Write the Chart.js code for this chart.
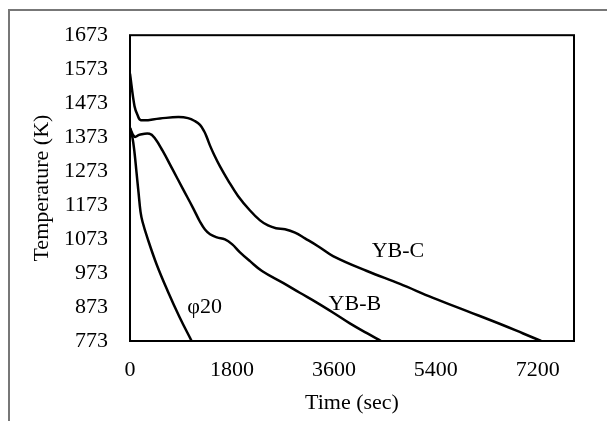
<!DOCTYPE html>
<html>
<head>
<meta charset="utf-8">
<script src="https://cdn.jsdelivr.net/npm/chart.js@4"></script>
<style>
    body { margin: 0; background: #fff; }
    #wrap { position: relative; width: 607px; height: 421px; }
    #frame { position: absolute; left: 8px; top: 9px; right: 0; bottom: 0; border-top: 2px solid #777; border-left: 2px solid #777; }
    canvas { position: absolute; left: 0; top: 0; }
</style>
</head>
<body>
<div id="wrap">
    <div id="frame"></div>
    <canvas id="coolingChart" width="607" height="421"></canvas>
</div>
<script>
// Cooling curves (time in s, temperature in K)
const phi20Time = [0, 44, 80, 115, 150, 186, 221, 310, 469, 663, 876, 1088];
const phi20Temp = [1400, 1371, 1327, 1269, 1211, 1153, 1124, 1075, 999, 921, 843, 773];

const ybBTime = [0, 80, 168, 345, 433, 575, 752, 936, 1112, 1236, 1324, 1413, 1536, 1677, 1801, 1942, 2119, 2331, 2702, 2998, 3299, 3582, 3882, 4184, 4432];
const ybBTemp = [1400, 1374, 1380, 1383, 1371, 1333, 1278, 1220, 1165, 1124, 1101, 1087, 1078, 1072, 1058, 1034, 1008, 979, 944, 915, 886, 857, 825, 796, 773];

const ybCTime = [0, 80, 133, 194, 530, 850, 1024, 1148, 1236, 1307, 1360, 1413, 1483, 1589, 1731, 1907, 2119, 2296, 2437, 2578, 2737, 2914, 3090, 3320, 3585, 4184, 4767, 5351, 5953, 6537, 6943, 7260];
const ybCTemp = [1560, 1464, 1438, 1423, 1428, 1432, 1429, 1420, 1409, 1391, 1371, 1348, 1322, 1287, 1246, 1200, 1157, 1128, 1113, 1105, 1102, 1092, 1075, 1052, 1023, 979, 941, 900, 861, 823, 795, 773];

const xTicks = [0, 1800, 3600, 5400, 7200];
const yTicks = [773, 873, 973, 1073, 1173, 1273, 1373, 1473, 1573, 1673];

const curveLabels = ['φ20', 'YB-B', 'YB-C'];
const curveLabelTime = [1318, 3971, 4732];
const curveLabelTemp = [872, 880, 1037];

const serif = 'Liberation Serif, Times New Roman, serif';

function toPoints(xs, ys) {
    return xs.map((x, i) => ({ x: x, y: ys[i] }));
}

function curve(label, xs, ys) {
    return {
        label: label,
        data: toPoints(xs, ys),
        borderColor: '#000',
        borderWidth: 2.5,
        pointRadius: 0,
        fill: false,
        tension: 0.4
    };
}

// box round the plot area and the curve names
const decorations = {
    id: 'decorations',
    afterDatasetsDraw(chart) {
        const ctx = chart.ctx;
        const a = chart.chartArea;
        ctx.save();
        ctx.strokeStyle = '#000';
        ctx.lineWidth = 2;
        ctx.strokeRect(a.left, a.top, a.right - a.left, a.bottom - a.top);
        ctx.fillStyle = '#000';
        ctx.font = '22px ' + serif;
        ctx.textAlign = 'center';
        ctx.textBaseline = 'middle';
        curveLabels.forEach((txt, i) => {
            const x = chart.scales.x.getPixelForValue(curveLabelTime[i]);
            const y = chart.scales.y.getPixelForValue(curveLabelTemp[i]);
            ctx.fillText(txt, x, y);
        });
        ctx.restore();
    }
};

const ctx = document.getElementById('coolingChart').getContext('2d');
const chart = new Chart(ctx, {
    type: 'line',
    data: {
        datasets: [
            curve('φ20', phi20Time, phi20Temp),
            curve('YB-B', ybBTime, ybBTemp),
            curve('YB-C', ybCTime, ybCTemp)
        ]
    },
    options: {
        responsive: false,
        animation: false,
        layout: { padding: { left: 0, top: 31, right: 33, bottom: 0 } },
        plugins: {
            legend: { display: false },
            tooltip: { enabled: false }
        },
        scales: {
            x: {
                type: 'linear',
                min: 0,
                max: 7840,
                afterBuildTicks: function(scale) {
                    scale.ticks = xTicks.map(v => ({ value: v }));
                },
                afterFit: function(scale) { scale.height = 80; },
                grid: { display: false, drawTicks: false },
                border: { display: false },
                ticks: {
                    color: '#000',
                    padding: 16,
                    maxRotation: 0,
                    font: { family: serif, size: 22 },
                    callback: function(value) { return String(value); }
                },
                title: {
                    display: true,
                    text: 'Time (sec)',
                    color: '#000',
                    padding: { top: 0, bottom: 5 },
                    font: { family: serif, size: 22 }
                }
            },
            y: {
                type: 'linear',
                min: 773,
                max: 1673,
                afterBuildTicks: function(scale) {
                    scale.ticks = yTicks.map(v => ({ value: v }));
                },
                afterFit: function(scale) { scale.width = 130; },
                grid: { display: false, drawTicks: false },
                border: { display: false },
                ticks: {
                    color: '#000',
                    padding: 22,
                    font: { family: serif, size: 22 },
                    callback: function(value) { return String(value); }
                },
                title: {
                    display: true,
                    text: 'Temperature (K)',
                    color: '#000',
                    padding: { top: 29, bottom: 0 },
                    font: { family: serif, size: 22 }
                }
            }
        }
    },
    plugins: [decorations]
});
</script>
</body>
</html>
